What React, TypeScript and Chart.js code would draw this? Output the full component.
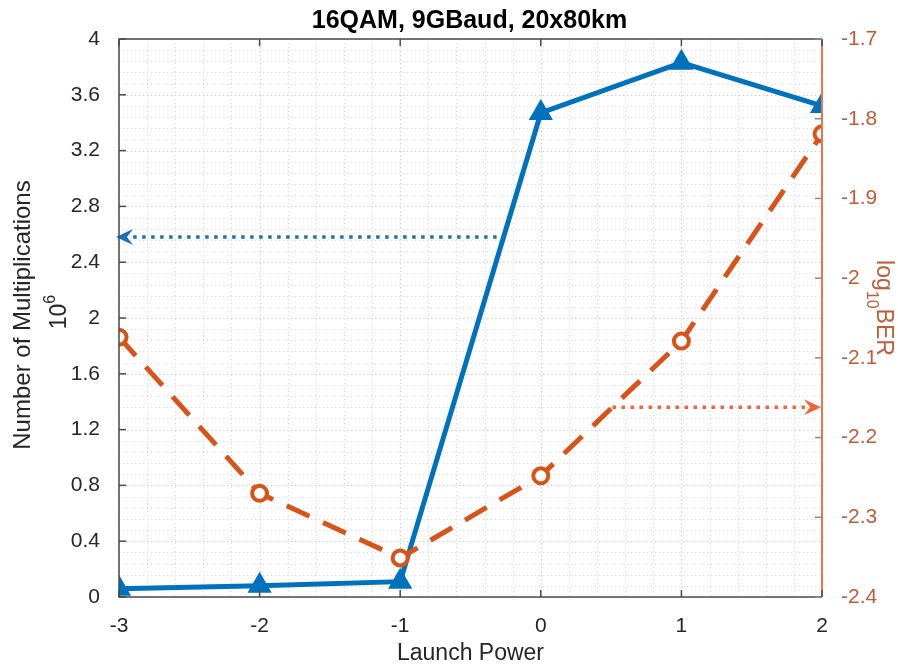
import React, { useEffect, useRef } from "react";
import { Chart, registerables } from "chart.js";

Chart.register(...registerables);

// Launch power sweep and the two measured quantities
const launchPower = [-3, -2, -1, 0, 1, 2];
const multiplications = [0.06, 0.08, 0.11, 3.47, 3.83, 3.52]; // ×10^6
const log10Ber = [-2.074, -2.27, -2.351, -2.248, -2.079, -1.819];

// Axis ticks
const xTicks = [-3, -2, -1, 0, 1, 2];
const leftTicks = [0, 0.4, 0.8, 1.2, 1.6, 2, 2.4, 2.8, 3.2, 3.6, 4];
const rightTicks = [-2.4, -2.3, -2.2, -2.1, -2, -1.9, -1.8, -1.7];

// Axis-pointing arrows: [from x, to x] at a fixed y on their own axis
const leftArrowX = [-0.25, -3];
const leftArrowY = 2.58;
const rightArrowX = [0.51, 2];
const rightArrowY = -2.162;

const FONT = "'Liberation Sans', Arial, Helvetica, sans-serif";
const BLUE = "#0072BD";
const ORANGE = "#D95319";
const RIGHT_TEXT = "#C05C36";
const AXIS_GRAY = "#4a4a4a";

const fmt = (v: number) => String(Number(Number(v).toFixed(3)));

const framePlugin = {
  id: "frame",
  beforeDatasetsDraw(chart: any) {
    const { ctx, chartArea: a, scales } = chart;
    const x = scales.x;
    const y = scales.y;
    ctx.save();
    ctx.lineWidth = 1;
    ctx.setLineDash([1.2, 2.8]);
    // minor grid
    ctx.strokeStyle = "#dadada";
    for (let i = 0; i <= 25; i++) {
      const px = Math.round(x.getPixelForValue(-3 + i * 0.2)) + 0.5;
      ctx.beginPath();
      ctx.moveTo(px, a.top);
      ctx.lineTo(px, a.bottom);
      ctx.stroke();
    }
    for (let i = 0; i <= 50; i++) {
      const py = Math.round(y.getPixelForValue(i * 0.08)) + 0.5;
      ctx.beginPath();
      ctx.moveTo(a.left, py);
      ctx.lineTo(a.right, py);
      ctx.stroke();
    }
    // major grid
    ctx.strokeStyle = "#c8c8c8";
    xTicks.forEach((v) => {
      const px = Math.round(x.getPixelForValue(v)) + 0.5;
      ctx.beginPath();
      ctx.moveTo(px, a.top);
      ctx.lineTo(px, a.bottom);
      ctx.stroke();
    });
    leftTicks.forEach((v) => {
      const py = Math.round(y.getPixelForValue(v)) + 0.5;
      ctx.beginPath();
      ctx.moveTo(a.left, py);
      ctx.lineTo(a.right, py);
      ctx.stroke();
    });
    ctx.restore();
  },
  afterDatasetsDraw(chart: any) {
    const { ctx, chartArea: a, scales } = chart;
    const x = scales.x;
    const y = scales.y;
    const y1 = scales.y1;
    ctx.save();

    // blue arrow pointing at the left axis
    {
      const py = y.getPixelForValue(leftArrowY);
      const x0 = x.getPixelForValue(leftArrowX[0]);
      const tip = x.getPixelForValue(leftArrowX[1]) - 3;
      ctx.strokeStyle = "#1f6fb5";
      ctx.lineWidth = 3.5;
      ctx.setLineDash([3.5, 5.5]);
      ctx.beginPath();
      ctx.moveTo(x0, py);
      ctx.lineTo(tip + 12, py);
      ctx.stroke();
      ctx.setLineDash([]);
      ctx.fillStyle = "#1f6fb5";
      ctx.beginPath();
      ctx.moveTo(tip, py);
      ctx.lineTo(tip + 17, py - 8);
      ctx.lineTo(tip + 11, py);
      ctx.lineTo(tip + 17, py + 8);
      ctx.closePath();
      ctx.fill();
    }

    // orange arrow pointing at the right axis
    {
      const py = y1.getPixelForValue(rightArrowY);
      const x0 = x.getPixelForValue(rightArrowX[0]);
      const tip = x.getPixelForValue(rightArrowX[1]) - 1;
      ctx.strokeStyle = "#F0643A";
      ctx.lineWidth = 3.5;
      ctx.setLineDash([3.5, 5.5]);
      ctx.beginPath();
      ctx.moveTo(x0, py);
      ctx.lineTo(tip - 12, py);
      ctx.stroke();
      ctx.setLineDash([]);
      ctx.fillStyle = "#F0643A";
      ctx.beginPath();
      ctx.moveTo(tip, py);
      ctx.lineTo(tip - 17, py - 8);
      ctx.lineTo(tip - 11, py);
      ctx.lineTo(tip - 17, py + 8);
      ctx.closePath();
      ctx.fill();
    }

    // axes box
    ctx.lineWidth = 1.5;
    ctx.strokeStyle = AXIS_GRAY;
    ctx.beginPath();
    ctx.moveTo(a.right, a.top);
    ctx.lineTo(a.left, a.top);
    ctx.lineTo(a.left, a.bottom);
    ctx.lineTo(a.right, a.bottom);
    ctx.stroke();
    ctx.strokeStyle = "#EC7448";
    ctx.lineWidth = 2;
    ctx.beginPath();
    ctx.moveTo(a.right, a.top);
    ctx.lineTo(a.right, a.bottom);
    ctx.stroke();

    // inward tick marks
    const TL = 7;
    ctx.lineWidth = 1.5;
    ctx.strokeStyle = AXIS_GRAY;
    xTicks.forEach((v) => {
      const px = x.getPixelForValue(v);
      ctx.beginPath();
      ctx.moveTo(px, a.bottom);
      ctx.lineTo(px, a.bottom - TL);
      ctx.moveTo(px, a.top);
      ctx.lineTo(px, a.top + TL);
      ctx.stroke();
    });
    leftTicks.forEach((v) => {
      const py = y.getPixelForValue(v);
      ctx.beginPath();
      ctx.moveTo(a.left, py);
      ctx.lineTo(a.left + TL, py);
      ctx.stroke();
    });
    ctx.strokeStyle = "#8a8a8a";
    rightTicks.forEach((v) => {
      const py = y1.getPixelForValue(v);
      ctx.beginPath();
      ctx.moveTo(a.right, py);
      ctx.lineTo(a.right - TL, py);
      ctx.stroke();
    });
    ctx.restore();
  },
  afterDraw(chart: any) {
    const { ctx, chartArea: a } = chart;
    const cx = (a.left + a.right) / 2;
    const cy = (a.top + a.bottom) / 2;
    ctx.save();

    // title
    ctx.fillStyle = "#000";
    ctx.font = `bold 25px ${FONT}`;
    ctx.textAlign = "center";
    ctx.textBaseline = "alphabetic";
    ctx.fillText("16QAM, 9GBaud, 20x80km", cx - 1, 28);

    // x-axis title
    ctx.fillStyle = "#262626";
    ctx.font = `23px ${FONT}`;
    ctx.fillText("Launch Power", cx, 660);

    // left axis title, two lines, rotated
    ctx.save();
    ctx.font = `24px ${FONT}`;
    ctx.translate(30, cy - 3);
    ctx.rotate(-Math.PI / 2);
    ctx.textAlign = "center";
    ctx.fillText("Number of Multiplications", 0, 0);
    ctx.restore();

    ctx.save();
    ctx.translate(66, cy - 6);
    ctx.rotate(-Math.PI / 2);
    ctx.textAlign = "left";
    ctx.font = `23px ${FONT}`;
    const w10 = ctx.measureText("10").width;
    ctx.font = `16px ${FONT}`;
    const w6 = ctx.measureText("6").width;
    const start = -(w10 + w6) / 2;
    ctx.font = `23px ${FONT}`;
    ctx.fillText("10", start, 0);
    ctx.font = `16px ${FONT}`;
    ctx.fillText("6", start + w10, -11);
    ctx.restore();

    // right axis title, rotated clockwise
    ctx.save();
    ctx.fillStyle = RIGHT_TEXT;
    ctx.translate(877, cy - 10);
    ctx.rotate(Math.PI / 2);
    ctx.textAlign = "left";
    ctx.font = `23px ${FONT}`;
    const wLog = ctx.measureText("log").width;
    const wBer = ctx.measureText("BER").width;
    ctx.font = `16px ${FONT}`;
    const wSub = ctx.measureText("10").width;
    const s = -(wLog + wSub + wBer) / 2;
    ctx.font = `23px ${FONT}`;
    ctx.fillText("log", s, 0);
    ctx.font = `16px ${FONT}`;
    ctx.fillText("10", s + wLog, 10);
    ctx.font = `23px ${FONT}`;
    ctx.fillText("BER", s + wLog + wSub, 0);
    ctx.restore();

    ctx.restore();
  },
};

export default function App() {
  const canvasRef = useRef<HTMLCanvasElement | null>(null);

  useEffect(() => {
    document.body.style.margin = "0";
    const canvas = canvasRef.current;
    if (!canvas) return;

    const tickFont = { family: FONT, size: 21 };

    const chart = new Chart(canvas, {
      type: "line",
      data: {
        datasets: [
          {
            label: "log10BER",
            data: launchPower.map((x, i) => ({ x, y: log10Ber[i] })),
            yAxisID: "y1",
            borderColor: ORANGE,
            borderWidth: 5,
            borderDash: [25, 15],
            pointStyle: "circle",
            pointRadius: 7.5,
            pointBorderWidth: 4,
            pointBackgroundColor: "#ffffff",
            pointBorderColor: ORANGE,
            tension: 0,
            clip: 0,
            order: 1,
          },
          {
            label: "Multiplications",
            data: launchPower.map((x, i) => ({ x, y: multiplications[i] })),
            yAxisID: "y",
            borderColor: BLUE,
            borderWidth: 5,
            pointStyle: "triangle",
            pointRadius: 12,
            pointBorderWidth: 2,
            pointBackgroundColor: BLUE,
            pointBorderColor: BLUE,
            tension: 0,
            clip: 0,
            order: 2,
          },
        ],
      },
      options: {
        responsive: false,
        animation: false,
        devicePixelRatio: 1,
        layout: { padding: { top: 39, left: 0, right: 0, bottom: 0 } },
        plugins: {
          legend: { display: false },
          tooltip: { enabled: false },
          title: { display: false },
        },
        scales: {
          x: {
            type: "linear",
            position: "bottom",
            min: -3,
            max: 2,
            grid: { display: false },
            border: { display: false },
            afterBuildTicks: (s: any) => {
              s.ticks = xTicks.map((v) => ({ value: v }));
            },
            afterFit: (s: any) => {
              s.height = 69;
            },
            ticks: {
              autoSkip: false,
              maxRotation: 0,
              padding: 9,
              color: "#262626",
              font: tickFont,
              callback: (v: any) => fmt(v),
            },
          },
          y: {
            type: "linear",
            position: "left",
            min: 0,
            max: 4,
            grid: { display: false },
            border: { display: false },
            afterBuildTicks: (s: any) => {
              s.ticks = leftTicks.map((v) => ({ value: v }));
            },
            afterFit: (s: any) => {
              s.width = 119;
            },
            ticks: {
              autoSkip: false,
              padding: 11,
              color: "#262626",
              font: tickFont,
              callback: (v: any) => fmt(v),
            },
          },
          y1: {
            type: "linear",
            position: "right",
            min: -2.4,
            max: -1.7,
            grid: { display: false },
            border: { display: false },
            afterBuildTicks: (s: any) => {
              s.ticks = rightTicks.map((v) => ({ value: v }));
            },
            afterFit: (s: any) => {
              s.width = 76;
            },
            ticks: {
              autoSkip: false,
              padding: 11,
              color: RIGHT_TEXT,
              font: tickFont,
              callback: (v: any) => fmt(v),
            },
          },
        },
      },
      plugins: [framePlugin],
    } as any);

    return () => chart.destroy();
  }, []);

  return (
    <div style={{ position: "absolute", left: 0, top: 0, width: 898, height: 666, background: "#fff" }}>
      <canvas ref={canvasRef} width={898} height={666} style={{ display: "block" }} />
    </div>
  );
}
